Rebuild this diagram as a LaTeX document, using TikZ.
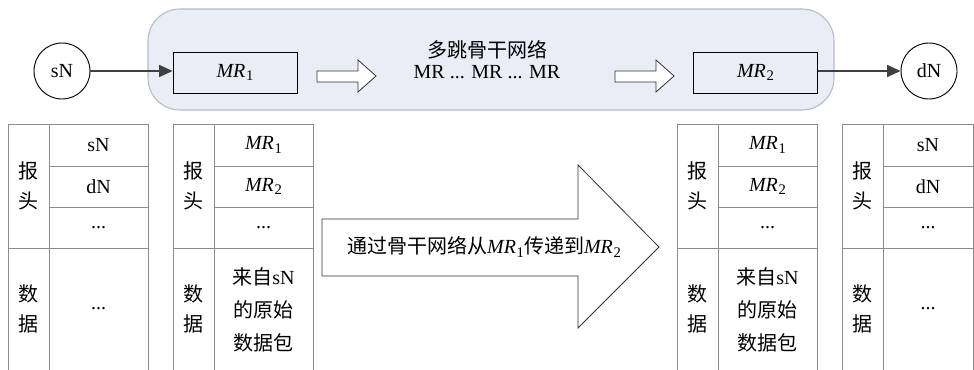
\documentclass[tikz,border=0pt]{standalone}
\usepackage{fontspec}
\setmainfont{Liberation Serif}
\newfontfamily\cjk{Noto Sans CJK SC}
\usetikzlibrary{arrows.meta}
\newcommand{\zh}[1]{{\cjk #1}}
\newcommand{\mrs}[1]{\textit{MR}\kern0.5pt\raisebox{-0.35ex}{\fontsize{11}{11}\selectfont #1}}
\definecolor{bbfill}{HTML}{E8EDF6}
\definecolor{bbline}{HTML}{B4BCC8}
\definecolor{tblline}{HTML}{8C8C8C}
\tikzset{
  backbone/.style={draw=bbline, line width=0.8pt, fill=bbfill, rounded corners=24pt, minimum width=514.5pt, minimum height=75.75pt},
  endnode/.style={circle, draw=black, line width=0.7pt, minimum size=42pt, inner sep=0pt},
  mrbox/.style={draw=black, line width=0.7pt, minimum width=93pt, minimum height=30.75pt, inner sep=0pt},
  conn/.style={draw=black!75, line width=0.8pt, -{Triangle[length=10pt,width=9pt]}},
  hollow/.style={draw=black!80, line width=0.6pt, fill=white},
  tbl/.style={draw=tblline, line width=0.7pt},
  lbl/.style={inner sep=0pt, align=center},
}
\newcommand{\pkt}[3]{%
  \draw[tbl] (#1,370)--(#1,124)--(#3,124)--(#3,370);
  \draw[tbl] (#2,124)--(#2,370);
  \draw[tbl] (#1,248)--(#3,248);
  \draw[tbl] (#2,166)--(#3,166);
  \draw[tbl] (#2,207)--(#3,207);
}
\begin{document}
\begin{tikzpicture}[x=0.75pt,y=-0.75pt,font=\fontsize{15}{18}\selectfont]
\useasboundingbox (0,0) rectangle (974,370);
% backbone region
\node[backbone] (bb) at (491,59.5) {};
\node[lbl] (bbt1) at (487,50) {\zh{多跳骨干网络}};
\node[lbl] (bbt2) at (487,72) {MR ... MR ... MR};
% end nodes
\node[endnode] (sN) at (62,71) {sN};
\node[endnode] (dN) at (929,71) {dN};
\node[mrbox] (mr1) at (235,72.5) {\mrs{1}};
\node[mrbox] (mr2) at (755.5,72.5) {\mrs{2}};
\draw[conn] (sN.east) -- (sN.east -| mr1.west);
\draw[conn] (mr2.east |- dN.west) -- (dN.west);
% small hollow arrows
\draw[hollow] (317,71)--(358,71)--(358,60)--(376,76)--(358,92)--(358,82)--(317,82)--cycle;
\draw[hollow] (615,71)--(656,71)--(656,60)--(674,76)--(656,92)--(656,82)--(615,82)--cycle;
% big arrow
\draw[hollow] (322,219)--(578,219)--(578,165)--(659,247)--(578,328)--(578,276)--(322,276)--cycle;
\node[lbl] (bigt) at (484,247) {\zh{通过骨干网络从}\mrs{1}\zh{传递到}\mrs{2}};
% tables
\pkt{8}{49}{148}
\pkt{173}{214}{313}
\pkt{677}{718}{817}
\pkt{842}{883}{973}
% table 1
\node[lbl,font=\fontsize{15}{23}\selectfont] (t1h) at (28.5,186) {\zh{报}\\\zh{头}};
\node[lbl,font=\fontsize{15}{23}\selectfont] (t1d) at (28.5,309) {\zh{数}\\\zh{据}};
\node[lbl] (t1a) at (98.5,145) {sN};
\node[lbl] (t1b) at (98.5,186.5) {dN};
\node[lbl] (t1c) at (98.5,227.5) {...};
\node[lbl] (t1e) at (98.5,309) {...};
% table 2
\node[lbl,font=\fontsize{15}{23}\selectfont] (t2h) at (193.5,186) {\zh{报}\\\zh{头}};
\node[lbl,font=\fontsize{15}{23}\selectfont] (t2d) at (193.5,309) {\zh{数}\\\zh{据}};
\node[lbl] (t2a) at (263.5,145) {\mrs{1}};
\node[lbl] (t2b) at (263.5,186.5) {\mrs{2}};
\node[lbl] (t2c) at (263.5,227.5) {...};
\node[lbl,font=\fontsize{15}{25}\selectfont] (t2e) at (263.5,310) {\zh{来自}sN\\\zh{的原始}\\\zh{数据包}};
% table 3
\node[lbl,font=\fontsize{15}{23}\selectfont] (t3h) at (697.5,186) {\zh{报}\\\zh{头}};
\node[lbl,font=\fontsize{15}{23}\selectfont] (t3d) at (697.5,309) {\zh{数}\\\zh{据}};
\node[lbl] (t3a) at (767.5,145) {\mrs{1}};
\node[lbl] (t3b) at (767.5,186.5) {\mrs{2}};
\node[lbl] (t3c) at (767.5,227.5) {...};
\node[lbl,font=\fontsize{15}{25}\selectfont] (t3e) at (767.5,310) {\zh{来自}sN\\\zh{的原始}\\\zh{数据包}};
% table 4
\node[lbl,font=\fontsize{15}{23}\selectfont] (t4h) at (862.5,186) {\zh{报}\\\zh{头}};
\node[lbl,font=\fontsize{15}{23}\selectfont] (t4d) at (862.5,309) {\zh{数}\\\zh{据}};
\node[lbl] (t4a) at (928,145) {sN};
\node[lbl] (t4b) at (928,186.5) {dN};
\node[lbl] (t4c) at (928,227.5) {...};
\node[lbl] (t4e) at (928,309) {...};
\end{tikzpicture}
\end{document}
